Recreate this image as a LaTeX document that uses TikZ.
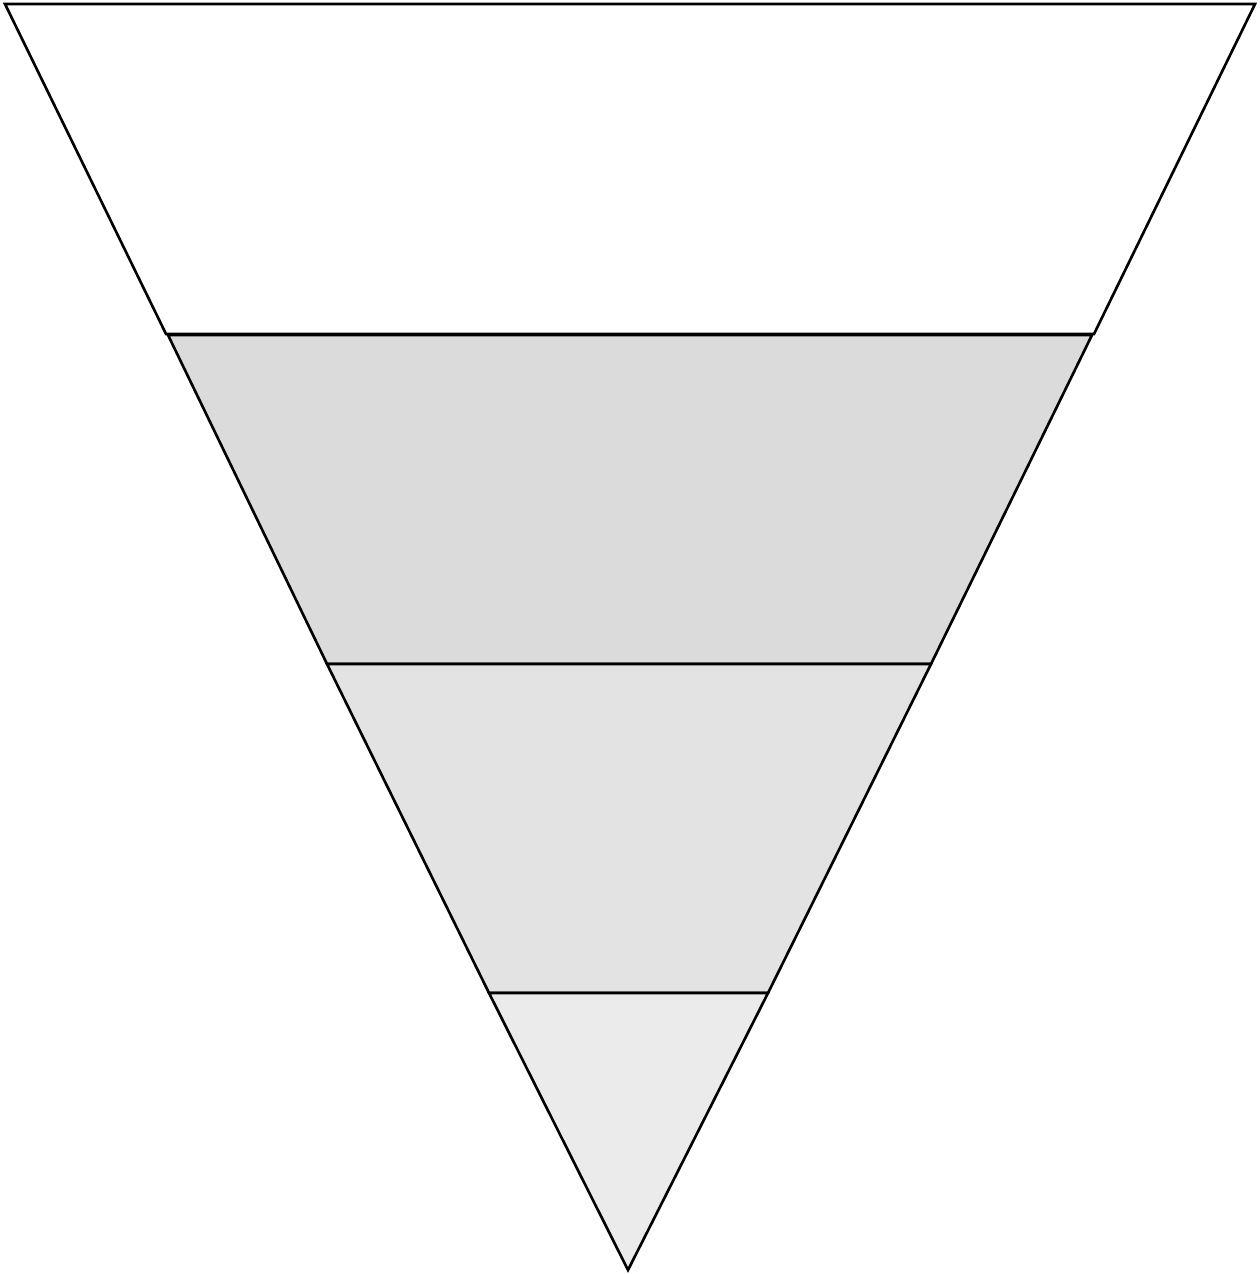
\documentclass[tikz,border=0pt]{standalone}
\begin{document}
\begin{tikzpicture}[x=0.01cm,y=-0.01cm,
  band/.style={draw=black,line width=0.75pt,line join=miter}]
\useasboundingbox (0,0) rectangle (1259,1274);
\fill[white] (0,0) rectangle (1259,1274);
% coordinates
\coordinate (TL) at (5,4);
\coordinate (TR) at (1255,4);
\coordinate (A) at (628,1270);
% band 1 (white)
\draw[band,fill=white] (TL) -- (TR) -- (1094,334) -- (166,334) -- cycle;
% band 2
\draw[band,fill=black!14] (168,335) -- (1092,335) -- (931,664) -- (327,664) -- cycle;
% band 3
\draw[band,fill=black!11] (327,664) -- (931,664) -- (768,993) -- (489,993) -- cycle;
% band 4
\draw[band,fill=black!8] (489,993) -- (768,993) -- (A) -- cycle;
\end{tikzpicture}
\end{document}
